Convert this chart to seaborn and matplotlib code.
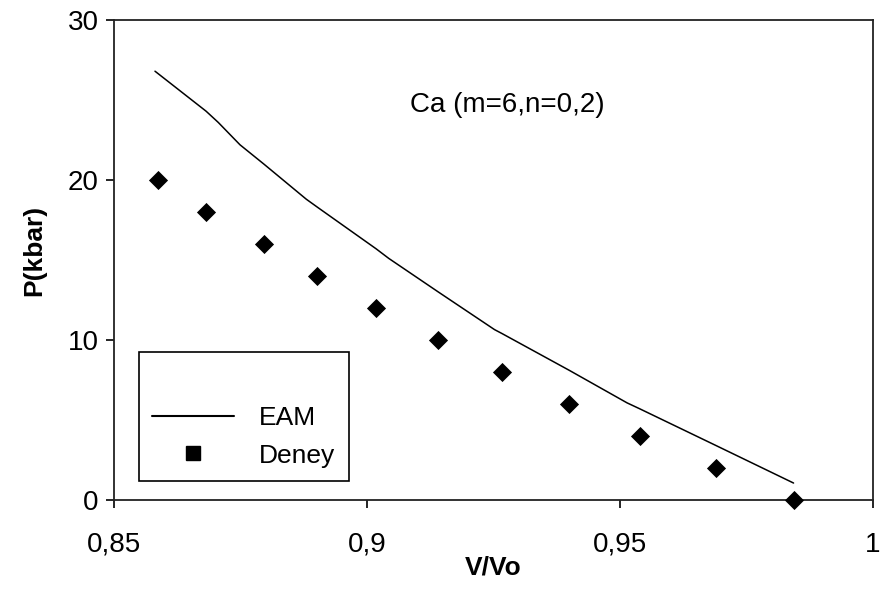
import matplotlib
matplotlib.use("Agg")
import matplotlib.pyplot as plt
from matplotlib.lines import Line2D
import seaborn as sns
import pandas as pd

# Data
v_ratio = [0.8586, 0.8682, 0.8796, 0.8902, 0.9018, 0.9141, 0.9267, 0.9400, 0.9539, 0.9690, 0.9843]
p_deney = [20, 18, 16, 14, 12, 10, 8, 6, 4, 2, 0]
v_eam = [0.8581, 0.8682, 0.8706, 0.8749, 0.8796, 0.8880, 0.8902, 0.9018, 0.9043, 0.9141, 0.9252,
         0.9267, 0.9400, 0.9514, 0.9539, 0.9690, 0.9843]
p_eam = [26.8, 24.3, 23.6, 22.2, 21.0, 18.8, 18.3, 15.7, 15.1, 13.0, 10.65,
         10.4, 8.1, 6.07, 5.7, 3.4, 1.06]
xticks = [0.85, 0.9, 0.95, 1.0]
xtick_labels = ["0,85", "0,9", "0,95", "1"]
yticks = [0, 10, 20, 30]
ytick_labels = ["0", "10", "20", "30"]
series_labels = ["EAM", "Deney"]
annotation = "Ca (m=6,n=0,2)"

sns.set_style("ticks")
plt.rcParams["font.family"] = ["Liberation Sans", "DejaVu Sans"]
plt.rcParams["text.color"] = "black"
plt.rcParams["axes.labelcolor"] = "black"

df_eam = pd.DataFrame({"V/Vo": v_eam, "P": p_eam})
df_exp = pd.DataFrame({"V/Vo": v_ratio, "P": p_deney})

fig = plt.figure(figsize=(8.81, 5.90), dpi=100)
ax = fig.add_axes([114 / 881, 1 - 500 / 590, 759 / 881, 480 / 590])

sns.lineplot(data=df_eam, x="V/Vo", y="P", ax=ax, color="black", linewidth=1.1,
             sort=False, estimator=None)
sns.scatterplot(data=df_exp, x="V/Vo", y="P", ax=ax, marker="D", s=95,
                color="black", linewidth=0, zorder=3, clip_on=False)

ax.set_xlim(0.85, 1.0)
ax.set_ylim(0, 30)
ax.set_xticks(xticks)
ax.set_xticklabels(xtick_labels)
ax.set_yticks(yticks)
ax.set_yticklabels(ytick_labels)
ax.tick_params(axis="both", direction="out", length=6, width=1.2, labelsize=20,
               colors="black", labelcolor="black")
ax.tick_params(axis="x", pad=17)
ax.tick_params(axis="y", pad=5)
for sp in ax.spines.values():
    sp.set_visible(True)
    sp.set_linewidth(1.3)
    sp.set_color("#222222")

ax.set_xlabel("V/Vo", fontsize=19, fontweight="bold", va="top", color="black")
ax.set_ylabel("P(kbar)", fontsize=19, fontweight="bold", color="black")
ax.xaxis.set_label_coords(0.5, -0.115)
ax.yaxis.set_label_coords(-0.089, 0.52)

ax.text(0.9278, 24.7, annotation, fontsize=20, ha="center", va="center", color="black")

handles = [Line2D([0], [0], color="black", linewidth=1.5),
           Line2D([0], [0], color="black", marker="s", linestyle="none", markersize=10.5)]
leg = ax.legend(handles, series_labels, loc="lower left", bbox_to_anchor=(0.033, 0.04),
                borderaxespad=0, fontsize=19, handlelength=3.1, handletextpad=0.95,
                borderpad=0.5, labelspacing=0.5, frameon=True, fancybox=False,
                title=" ", title_fontsize=21)
leg.get_frame().set_edgecolor("black")
leg.get_frame().set_linewidth(1.2)
leg.get_frame().set_alpha(1)
for t in leg.get_texts():
    t.set_color("black")

fig.savefig("out.png", dpi=100)
